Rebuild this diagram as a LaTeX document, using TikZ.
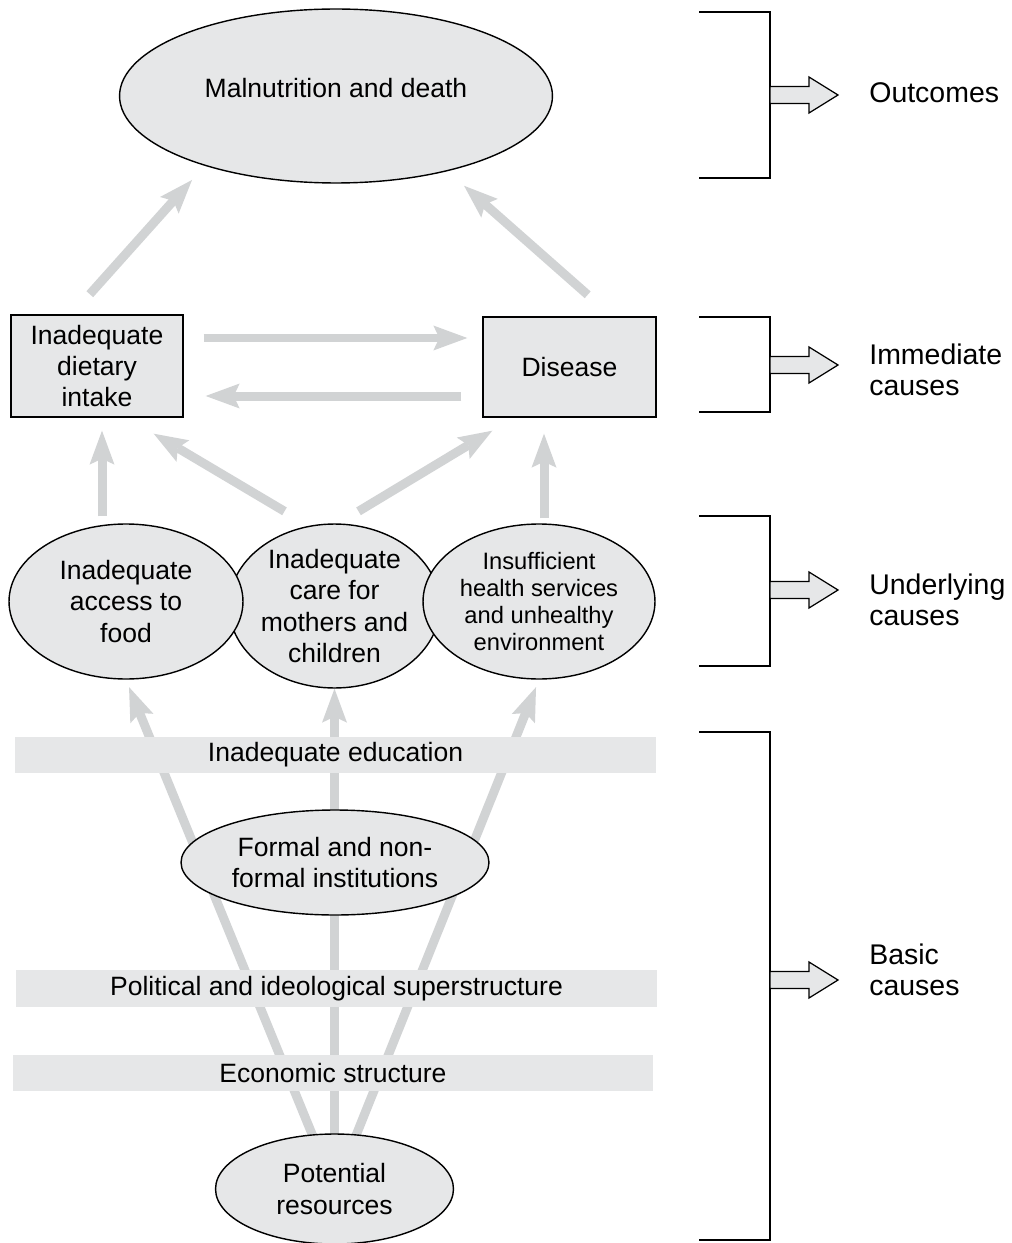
\documentclass[tikz,border=0pt]{standalone}
\usepackage{fontspec}
\setmainfont{Liberation Sans}
\usetikzlibrary{arrows.meta,calc,shapes.geometric,backgrounds}

\definecolor{boxgray}{RGB}{230,231,232}
\definecolor{flowgray}{RGB}{209,211,212}
\newcommand{\mainfs}{\fontsize{15.1}{17.9}\selectfont}
\newcommand{\smallfs}{\fontsize{13.5}{15.2}\selectfont}
\newcommand{\sidefs}{\fontsize{16.2}{17.6}\selectfont}

\begin{document}
\begin{tikzpicture}
[
	              x = 0.02cm,
	              y = -0.02cm,
	    flow/.style = { draw=flowgray, line width=0.18cm,
	                    -{Stealth[width=0.5cm, length=0.68cm, inset=0.12cm, line width=0pt]} },
	     box/.style = { draw, line width=0.8pt, fill=boxgray, rectangle, inner sep=0pt, align=center, font=\mainfs },
	    oval/.style = { draw, line width=0.8pt, fill=boxgray, ellipse, inner sep=0pt, align=center, font=\mainfs },
	    band/.style = { fill=boxgray, rectangle, inner sep=0pt, minimum width=12.82cm, minimum height=0.73cm, font=\mainfs },
	    side/.style = { anchor=west, inner sep=0pt, align=left, font=\sidefs },
	 bracket/.style = { draw, line width=0.8pt },
	  hollow/.style = { draw, line width=0.7pt, fill=boxgray, line join=miter }
]
	\useasboundingbox (0,0) rectangle (1011,1243);

	% outcome
	\node (death) at (336,96) [oval, minimum width=8.66cm, minimum height=3.48cm, text depth=0.33cm] {Malnutrition and death};

	% immediate causes
	\node (diet) at (97,366)    [box, minimum width=3.44cm, minimum height=2.04cm] {Inadequate\\dietary\\intake};
	\node (dis)  at (569.5,367) [box, minimum width=3.46cm, minimum height=2.0cm]  {Disease};

	% underlying causes
	\node (care)   at (334.5,606) [oval, minimum width=4.22cm, minimum height=3.28cm] {Inadequate\\care for\\mothers and\\children};
	\node (food)   at (126,601.5) [oval, minimum width=4.68cm, minimum height=3.1cm]  {Inadequate\\access to\\food};
	\node (health) at (539,601.5) [oval, minimum width=4.64cm, minimum height=3.1cm, font=\smallfs] {Insufficient\\health services\\and unhealthy\\environment};

	% basic causes
	\node (edu)    at (335.5,755)  [band] {Inadequate education};
	\node (formal) at (335,862.5)  [oval, minimum width=6.16cm, minimum height=2.1cm] {Formal and non-\\formal institutions};
	\node (pol)    at (336.5,988.5)[band] {Political and ideological superstructure};
	\node (eco)    at (333,1073)   [band] {Economic structure};
	\node (res)    at (334.5,1189) [oval, minimum width=4.76cm, minimum height=2.2cm] {Potential\\resources};

	\begin{scope}[on background layer]
		\draw [flow, shorten <=0.54cm, shorten >=0.38cm] (diet.116.6) -- (death.208.7);
		\draw [flow, shorten <=0.65cm, shorten >=0.44cm] (dis.50.3) -- (death.326.6);

		\draw [flow] ($(diet.east)+(20,-28)$) -- ($(dis.west)+(-15,-29)$);
		\draw [flow] ($(dis.west)+(-21,29)$) -- ($(diet.east)+(22,30)$);

		\draw [flow] ($(food.north -| diet.south)+(5,-7)$) -- ($(diet.south)+(5,13)$);
		\draw [flow] ($(care.north)+(-50,-12)$) -- ($(diet.south east)+(-30,16)$);
		\draw [flow] ($(care.north)+(24,-12)$) -- ($(dis.south west)+(10,13)$);
		\draw [flow] ($(health.north)+(5,-5)$) -- ($(health.north |- dis.south)+(5,16)$);

		\draw [flow, shorten >=0.16cm] (res.center) -- (food.south);
		\draw [flow] (res.center) -- (care.south);
		\draw [flow, shorten >=0.16cm] (res.center) -- (health.south);
	\end{scope}

	% levels on the right
	\draw [bracket] (699,12)  -| (770,178)  -- (699,178);
	\draw [bracket] (699,317) -| (770,412)  -- (699,412);
	\draw [bracket] (699,516) -| (770,666)  -- (699,666);
	\draw [bracket] (699,732) -| (770,1240) -- (699,1240);

	\foreach \ay in {95,365,590,980}
		\draw [hollow] (770,\ay) ++(0,-8.5) -- ++(39,0) -- ++(0,-9.5) -- ++(29,18)
			-- ++(-29,18) -- ++(0,-9.5) -- ++(-39,0) -- cycle;

	\node (outc)  at (869,93)  [side] {Outcomes};
	\node (imm)   at (869,370) [side] {Immediate\\causes};
	\node (under) at (869,600) [side] {Underlying\\causes};
	\node (basic) at (869,970) [side] {Basic\\causes};

\end{tikzpicture}
\end{document}
